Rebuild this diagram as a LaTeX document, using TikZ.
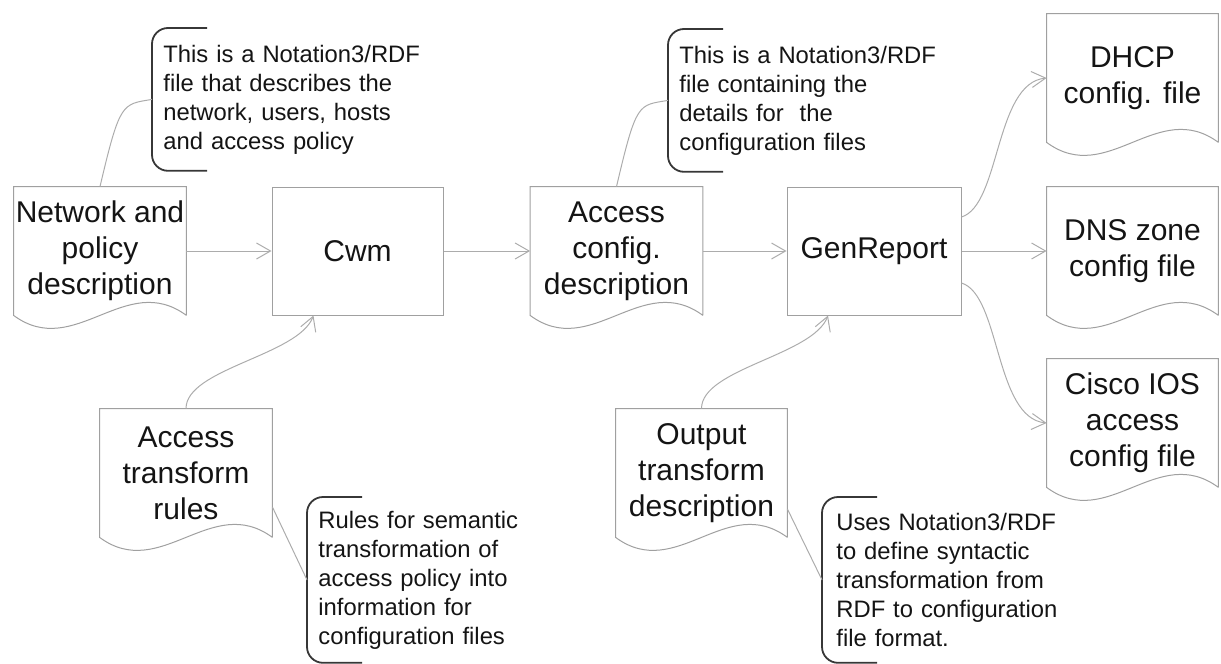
\documentclass[tikz,border=0pt]{standalone}
\usepackage{fontspec}
\setmainfont{Liberation Sans}
\usetikzlibrary{arrows.meta}
\definecolor{linegray}{RGB}{160,160,160}
\definecolor{flowgray}{RGB}{172,172,172}
\definecolor{notegray}{RGB}{55,55,55}
\definecolor{textgray}{RGB}{20,20,20}

\begin{document}
\begin{tikzpicture}
    [ x=.5pt, y=-.5pt, text=textgray,
      docnode/.style={inner sep=0pt, minimum width=86pt, minimum height=64pt,
                      align=center, font=\fontsize{15}{18}\selectfont},
      procbox/.style={docnode, draw=linegray, line width=.5pt},
      docline/.style={draw=linegray, line width=.5pt},
      notetext/.style={anchor=north west, inner ysep=0pt, inner xsep=5.5pt,
                       text width=130pt, align=left, font=\fontsize{11.9}{14.5}\selectfont},
      bracket/.style={draw=notegray, line width=.9pt, rounded corners=8pt},
      flow/.style={draw=flowgray, line width=.5pt, -{Straight Barb[length=7pt,width=8pt]}},
      link/.style={draw=flowgray, line width=.5pt},
    ]
    \useasboundingbox (0,0) rectangle (1221,664);

    \node[docnode] (net) at (100,251) {Network and\\policy\\description};
    \node[procbox, minimum width=85.5pt] (cwm) at (357.5,251) {Cwm};
    \node[docnode] (acc) at (616.5,251) {Access\\config.\\description};
    \node[procbox, minimum width=87pt] (gen) at (874,251) {GenReport};
    \node[docnode, minimum width=85.5pt] (dhcp) at (1132.5,78) {DHCP\\config. file};
    \node[docnode, minimum width=85.5pt] (dns) at (1132.5,251) {DNS zone\\config file};
    \node[docnode, minimum width=85.5pt] (cisco) at (1132.5,423) {Cisco IOS\\access\\config file};
    \node[docnode] (rules) at (186,473) {Access\\transform\\rules};
    \node[docnode, minimum width=85.5pt] (out) at (701.5,473) {Output\\transform\\description};

    % document outlines with the wavy bottom
    \foreach \n in {net,acc,dhcp,dns,cisco,rules,out} {
        \draw[docline] (\n.south east) -- (\n.north east) -- (\n.north west) -- (\n.south west)
            .. controls +(61,45) and +(-61,-45) .. (\n.south east);
    }

    \node[notetext, minimum height=71pt] (netnote) at (152,28)
        {This is a Notation3/RDF\\file that describes the\\network, users, hosts\\and access policy};
    \node[notetext, minimum height=71pt] (accnote) at (668,29)
        {This is a Notation3/RDF\\file containing the\\details for\ \ the\\configuration files};
    \node[notetext, minimum height=82.5pt] (rulesnote) at (307,497)
        {Rules for semantic\\transformation of\\access policy into\\information for\\configuration files};
    \node[notetext, minimum height=82.5pt, inner xsep=7pt] (outnote) at (822,497)
        {Uses Notation3/RDF\\to define syntactic\\transformation from\\RDF to configuration\\file format.};

    \foreach \n in {netnote,accnote,rulesnote,outnote} {
        \draw[bracket] ([xshift=27.5pt]\n.north west) -- (\n.north west)
            -- (\n.south west) -- ([xshift=27.5pt]\n.south west);
    }

    \draw[flow] (net) -- (cwm);
    \draw[flow] (cwm) -- (acc);
    \draw[flow] (acc) -- (gen);
    \draw[flow] (gen) -- (dns);
    \draw[flow] ([yshift=17pt]gen.east) .. controls +(39,-12) and +(-52,5) .. (dhcp.west);
    \draw[flow] ([yshift=-16pt]gen.east) .. controls +(39,12) and +(-52,-5) .. (cisco.west);
    \draw[flow] (rules.north) .. controls +(0,-40) and +(-15,40) .. ([xshift=-22pt]cwm.south);
    \draw[flow] (out.north) .. controls +(0,-40) and +(-15,40) .. ([xshift=-23pt]gen.south);

    \draw[link] (net.north) .. controls +(20,-85) and +(-30,5) .. (netnote.west);
    \draw[link] (acc.north) .. controls +(20,-85) and +(-30,5) .. (accnote.west);
    \draw[link] ([yshift=-17pt]rules.east) -- (rulesnote.west);
    \draw[link] ([yshift=-18pt]out.east) -- (outnote.west);
\end{tikzpicture}
\end{document}
